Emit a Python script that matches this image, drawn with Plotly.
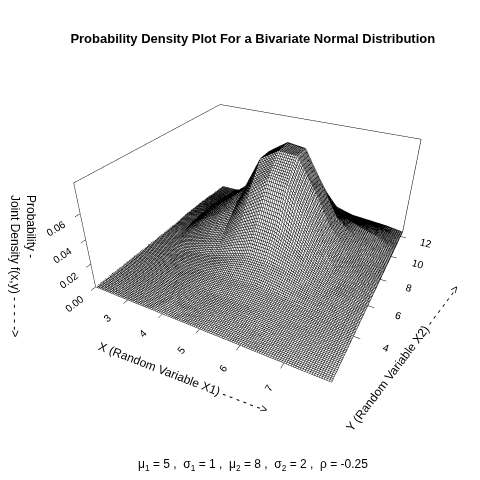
import plotly.graph_objects as go

# grid of the random variables
x1_values = [2.0, 2.5, 3.0, 3.5, 4.0, 4.5, 5.0, 5.5, 6.0, 6.5, 7.0, 7.5, 8.0]
x2_values = [1.5, 2.5, 3.5, 4.5, 5.5, 6.5, 7.5, 8.5, 9.5, 10.5, 11.5, 12.5]

# estimated joint density heights, one row per x2 value (x 0.001)
joint_density = [
    [0, 0, 0, 0, 0, 0, 0, 0, 0, 0, 0, 0, 0],
    [0, 0, 0, 0, 0, 0, 1, 1, 0, 0, 0, 0, 0],
    [0, 0, 0, 0, 1, 1, 2, 2, 2, 1, 0, 0, 0],
    [0, 0, 0, 1, 3, 5, 6, 7, 5, 3, 1, 0, 0],
    [0, 0, 1, 4, 7, 12, 17, 17, 14, 8, 3, 1, 0],
    [0, 1, 6, 12, 18, 30, 38, 36, 26, 14, 6, 2, 0],
    [0, 3, 13, 22, 30, 52, 64, 62, 42, 22, 9, 3, 1],
    [1, 4, 17, 28, 40, 70, 79, 78, 55, 28, 12, 4, 1],
    [1, 4, 17, 28, 40, 70, 80, 78, 53, 27, 14, 7, 1],
    [1, 3, 13, 22, 31, 54, 64, 58, 37, 20, 14, 9, 2],
    [0, 1, 7, 13, 19, 29, 35, 31, 19, 11, 9, 6, 1],
    [0, 0, 2, 5, 9, 13, 15, 13, 8, 4, 3, 2, 0],
]

x_ticks = [3, 4, 5, 6, 7]
y_ticks = [4, 6, 8, 10, 12]
z_ticks = [0.00, 0.02, 0.04, 0.06]

z = [[v / 1000 for v in row] for row in joint_density]

FONT = "Liberation Sans, Arial, sans-serif"

fig = go.Figure(go.Surface(
    x=x1_values, y=x2_values, z=z,
    colorscale=[[0, "white"], [1, "white"]],
    showscale=False,
    lighting=dict(ambient=1, diffuse=0, specular=0, fresnel=0),
    contours=dict(
        x=dict(show=True, start=2.0, end=8.0, size=0.05, color="black", width=1),
        y=dict(show=True, start=1.5, end=12.5, size=0.09, color="black", width=1),
    ),
    hoverinfo="skip",
))

axis_common = dict(
    showbackground=False, showgrid=False, zeroline=False,
    showline=True, linecolor="black", linewidth=1, mirror=True,
    ticks="outside", ticklen=5, tickcolor="black",
    tickfont=dict(family=FONT, size=11, color="black"),
    showspikes=False, title=dict(text=""),
)


def label(text, x, y, angle):
    # axis titles placed by hand, rotated like the reference
    return dict(text=text, x=x / 480, y=1 - y / 480, xref="paper", yref="paper",
                xanchor="center", yanchor="middle", showarrow=False,
                textangle=angle, align="left",
                font=dict(family=FONT, size=12, color="black"))


fig.update_layout(
    width=480, height=480,
    paper_bgcolor="white",
    margin=dict(l=0, r=0, t=0, b=0),
    title=dict(text="<b>Probability Density Plot For a Bivariate Normal Distribution</b>",
               x=0.51, xanchor="center", y=0.937, yanchor="middle",
               font=dict(family=FONT, size=13, color="black")),
    scene=dict(
        domain=dict(x=[0.0, 1.0], y=[0.16, 0.98]),
        aspectmode="manual",
        aspectratio=dict(x=1, y=1, z=0.47),
        camera=dict(eye=dict(x=0.75, y=-1.53, z=1.0),
                    center=dict(x=-0.055, y=-0.028, z=-0.02)),
        xaxis=dict(axis_common, tickvals=x_ticks, range=[2.0, 8.0]),
        yaxis=dict(axis_common, tickvals=y_ticks, range=[1.5, 12.5]),
        zaxis=dict(axis_common, tickvals=z_ticks, tickformat=".2f", range=[0, 0.082]),
    ),
    annotations=[
        dict(text="μ<sub>1</sub> = 5 ,  σ<sub>1</sub> = 1 ,  μ<sub>2</sub> = 8 ,  "
                  "σ<sub>2</sub> = 2 ,  ρ = -0.25",
             x=0.51, y=0.027, xref="paper", yref="paper", showarrow=False,
             font=dict(family=FONT, size=12, color="black")),
        label("X (Random Variable X1) - - - - - ->", 175, 370, 21),
        label("Y (Random Variable X2) - - - - - ->", 395, 350, -53),
        label("Probability -<br>Joint Density f(x,y) - - - - ->", 15, 258, 90),
    ],
)

fig.write_html("out.html")
